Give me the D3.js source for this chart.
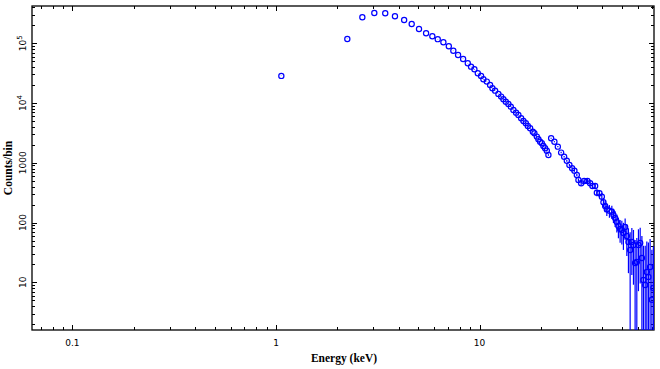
<!DOCTYPE html>
<html><head><meta charset="utf-8">
<script src="https://cdn.jsdelivr.net/npm/d3@7/dist/d3.min.js"></script>
<style>body{margin:0;background:#fff;}svg{display:block;}</style>
</head><body>
<svg id="chart" width="660" height="369"></svg>
<script>
// ---- data ----
const energy = [1.062,2.24,2.655,3.04,3.44,3.84,4.26,4.64,5.04,5.46,5.86,6.23,6.64,7.06,7.43,7.84,8.30,
 8.75,9.08,9.43,9.80,10.17,10.44,10.85,11.26,11.56,11.92,12.37,12.76,13.09,13.45,13.85,14.23,14.66,15.11,15.51,16.0,16.42,16.87,17.26,17.71,18.26,18.59,19.10,19.45,19.83,20.22,20.58,20.98,21.39,21.78,
 22.46,23.31,24.23,25.15,26.02,26.82,27.62,28.48,29.23,30.04,30.59,31.54,32.63,33.87,34.91,35.84,36.95,37.67,38.80,39.86,40.59,41.38,42.17,43.43,44.63,45.45,46.33,47.23,48.08,49.01,49.97,50.88,51.88,52.88,53.85,54.90,55.97,57.0,58.07,59.2,60.3,61.5,62.7,63.8,65.1,66.3,67.5,68.8,70.2,71.4];
const counts = [28400,118000,272000,321000,318000,283000,245000,210000,173000,147000,131000,117000,104000,89000,75100,63700,54600,
 46200,40600,36700,31500,28400,25000,22800,20000,17700,16100,14200,12800,11600,10500,9650,8690,7650,6900,6310,5560,5010,4590,4130,3780,3310,3120,2740,2470,2250,2120,1910,1750,1590,1350,
 2570,2250,1860,1480,1260,1080,918,809,738,625,515,454,496,496,454,409,409,316,309,271,218,189,167,158,152,134,119,102,87.5,78,75,66.8,84,59.6,47.2,34.7,47.2,42.1,21.0,21.9,42.1,45.5,25.5,10.9,9.0,14.9,12.3,18.0,5.1,8.0];
const countErr = [170,350,520,570,560,530,500,460,420,380,360,340,320,300,270,250,230,
 215,200,190,180,170,160,150,140,135,130,120,115,110,105,100,95,90,85,80,75,72,68,65,62,58,56,54,52,50,48,46,44,42,40,
 55,52,48,44,40,38,35,33,32,30,32,34,36,38,38,40,40,40,42,42,40,40,38,38,38,36,35,34,33,32,32,32,33,32,33,34,34,33,30,33,35,36,34,30,32,33,34,35,30,32];
const xTickValues = [0.1, 1, 10];
const xTickLabels = ["0.1", "1", "10"];
const yTickValues = [10, 100, 1000, 1e4, 1e5];
const yTickBase = ["10", "100", "1000", "10", "10"];
const yTickExp = ["", "", "", "4", "5"];
const xTitle = "Energy (keV)";
const yTitle = "Counts/bin";

// ---- layout ----
const L = 32, R = 654, T = 6, B = 330;
const x = d3.scaleLog().domain([0.0633, 71.9]).range([L, R]);
const y = d3.scaleLog().domain([1.59, 4.2e5]).range([B, T]);
const svg = d3.select("#chart");
const blue = "#0000ff";

svg.append("defs").append("clipPath").attr("id", "clip")
  .append("rect").attr("x", L).attr("y", T).attr("width", R - L).attr("height", B - T);

// ticks
function minorList(dom) {
  const out = [];
  const lo = Math.floor(Math.log10(dom[0])), hi = Math.ceil(Math.log10(dom[1]));
  for (let p = lo; p <= hi; p++) for (let m = 1; m <= 9; m++) {
    const v = m * Math.pow(10, p);
    if (v >= dom[0] && v <= dom[1]) out.push({v, major: m === 1});
  }
  return out;
}
const tg = svg.append("g").attr("stroke", "#000").attr("stroke-width", 1);
minorList(x.domain()).forEach(t => {
  const len = t.major ? 5 : 3, px = Math.round(x(t.v)) + 0.5;
  tg.append("line").attr("x1", px).attr("x2", px).attr("y1", B).attr("y2", B - len);
  tg.append("line").attr("x1", px).attr("x2", px).attr("y1", T).attr("y2", T + len);
});
minorList(y.domain()).forEach(t => {
  const len = t.major ? 5 : 3, py = Math.round(y(t.v)) + 0.5;
  tg.append("line").attr("y1", py).attr("y2", py).attr("x1", L).attr("x2", L + len);
  tg.append("line").attr("y1", py).attr("y2", py).attr("x1", R).attr("x2", R - len);
});

// frame
svg.append("rect").attr("x", L).attr("y", T).attr("width", R - L).attr("height", B - T)
  .attr("fill", "none").attr("stroke", "#000").attr("stroke-width", 1.3);

// tick labels
const lab = svg.append("g").attr("font-family", "DejaVu Sans, sans-serif").attr("font-size", 9).attr("fill", "#000");
xTickValues.forEach((v, i) => {
  lab.append("text").attr("x", x(v)).attr("y", 346).attr("text-anchor", "middle").text(xTickLabels[i]);
});
yTickValues.forEach((v, i) => {
  const t = lab.append("text").attr("transform", `translate(26,${y(v)}) rotate(-90)`).attr("text-anchor", "middle");
  t.append("tspan").text(yTickBase[i]);
  if (yTickExp[i]) t.append("tspan").attr("font-size", 7).attr("dy", -4).text(yTickExp[i]);
});

// axis titles
svg.append("text").attr("x", (L + R) / 2 + 1).attr("y", 362).attr("text-anchor", "middle")
  .attr("font-family", "Liberation Serif, serif").attr("font-weight", "bold").attr("font-size", 11.5).text(xTitle);
svg.append("text").attr("transform", `translate(12,${(T + B) / 2}) rotate(-90)`).attr("text-anchor", "middle")
  .attr("font-family", "Liberation Serif, serif").attr("font-weight", "bold").attr("font-size", 11.5).text(yTitle);

// data
const data = energy.map((e, i) => ({e, c: counts[i], err: countErr[i]}));
const dg = svg.append("g").attr("clip-path", "url(#clip)").attr("stroke", blue).attr("fill", "none");
const ymin = y.domain()[0] * 0.5;
data.forEach(d => {
  const lo = Math.max(d.c - d.err, ymin), hi = d.c + d.err;
  dg.append("line").attr("x1", x(d.e)).attr("x2", x(d.e)).attr("y1", y(lo)).attr("y2", y(hi)).attr("stroke-width", 1.2);
  dg.append("circle").attr("cx", x(d.e)).attr("cy", y(d.c)).attr("r", 2.6).attr("stroke-width", 1.2);
});
</script>
</body></html>
